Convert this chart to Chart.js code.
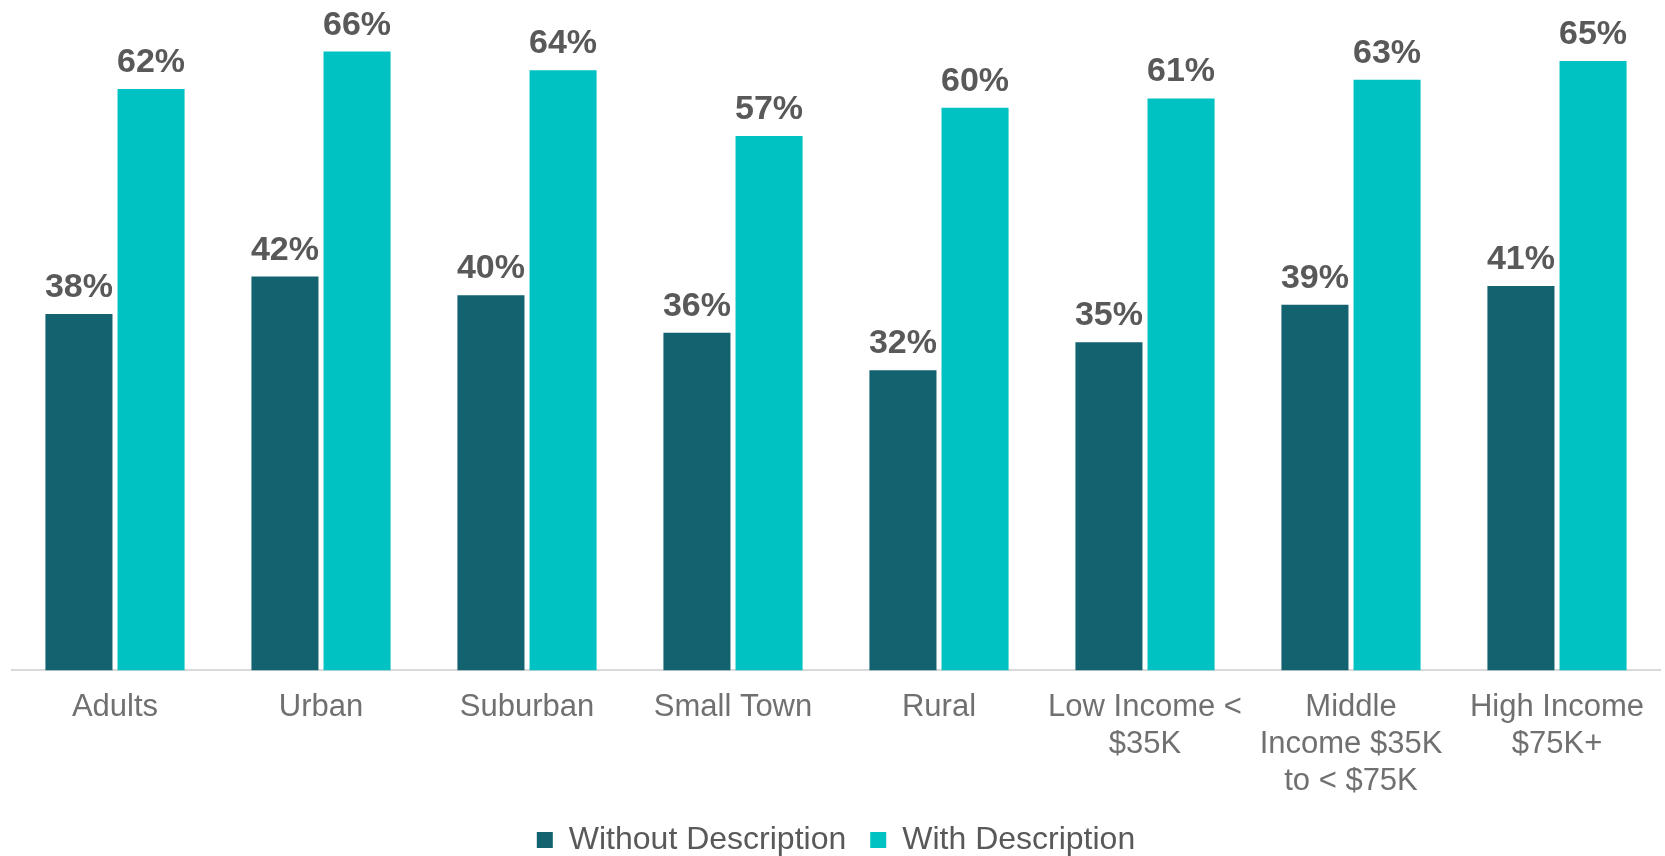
<!DOCTYPE html>
<html>
<head>
<meta charset="utf-8">
<script src="https://cdn.jsdelivr.net/npm/chart.js@4.4.1/dist/chart.umd.min.js"></script>
<style>
  html, body { margin: 0; padding: 0; background: #fff; }
  #wrap { width: 1665px; height: 856px; position: relative; }
</style>
</head>
<body>
<div id="wrap"><canvas id="descChart"></canvas></div>
<script>
// Chart data
const categories = [
  'Adults',
  'Urban',
  'Suburban',
  'Small Town',
  'Rural',
  ['Low Income <', '$35K'],
  ['Middle', 'Income $35K', 'to < $75K'],
  ['High Income', '$75K+']
];
const withoutDescription = [38, 42, 40, 36, 32, 35, 39, 41];
const withDescription = [62, 66, 64, 57, 60, 61, 63, 65];
const seriesNames = ['Without Description', 'With Description'];

const FONT = '"Liberation Sans", Arial, sans-serif';
const TICK_PAD = 18;

// draws the "62%" labels above each bar
const valueLabels = {
  id: 'valueLabels',
  afterDatasetsDraw(chart) {
    const ctx = chart.ctx;
    ctx.save();
    ctx.font = 'bold 34px ' + FONT;
    ctx.fillStyle = '#595959';
    ctx.textAlign = 'center';
    ctx.textBaseline = 'alphabetic';
    chart.data.datasets.forEach((ds, i) => {
      chart.getDatasetMeta(i).data.forEach((bar, j) => {
        ctx.fillText(ds.data[j] + '%', bar.x, bar.y - 17);
      });
    });
    ctx.restore();
  }
};

const ctx = document.getElementById('descChart').getContext('2d');
new Chart(ctx, {
  type: 'bar',
  data: {
    labels: categories,
    datasets: [{
      label: seriesNames[0],
      data: withoutDescription,
      backgroundColor: '#12626F',
      categoryPercentage: 0.70,
      barPercentage: 0.93
    }, {
      label: seriesNames[1],
      data: withDescription,
      backgroundColor: '#00C2C3',
      categoryPercentage: 0.70,
      barPercentage: 0.93
    }]
  },
  options: {
    responsive: true,
    maintainAspectRatio: false,
    animation: false,
    layout: {
      padding: { top: 14, left: 12, right: 5, bottom: -10 }
    },
    scales: {
      x: {
        grid: { display: false, drawTicks: false },
        border: { color: '#d9d9d9', width: 2 },
        ticks: {
          color: '#707070',
          font: { family: FONT, size: 31, lineHeight: 1.2 },
          maxRotation: 0,
          autoSkip: false,
          padding: TICK_PAD
        },
        // chart.js counts the tick padding twice, drop the one below the labels
        afterFit(scale) {
          scale.height -= TICK_PAD;
        }
      },
      y: {
        display: false,
        min: 0,
        max: 70
      }
    },
    plugins: {
      legend: {
        position: 'bottom',
        labels: {
          color: '#595959',
          font: { family: FONT, size: 32 },
          boxWidth: 16,
          boxHeight: 16,
          padding: 24
        }
      },
      tooltip: { enabled: false }
    }
  },
  plugins: [valueLabels]
});
</script>
</body>
</html>
